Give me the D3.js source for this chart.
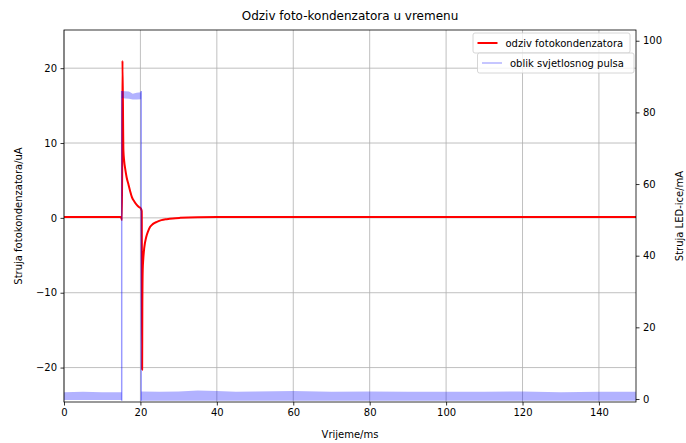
<!DOCTYPE html>
<html><head><meta charset="utf-8">
<script src="https://cdn.jsdelivr.net/npm/d3@7"></script>
<style>
body{margin:0;background:#fff;}
svg{display:block;font-family:"DejaVu Sans",sans-serif;}
</style></head>
<body><svg id="chart" width="686" height="443"></svg>
<script>
// ---- data ----
const chartTitle = "Odziv foto-kondenzatora u vremenu";
const xLabel = "Vrijeme/ms";
const yLeftLabel = "Struja fotokondenzatora/uA";
const yRightLabel = "Struja LED-ice/mA";
const seriesNames = ["odziv fotokondenzatora", "oblik svjetlosnog pulsa"];

const xTicks = [0, 20, 40, 60, 80, 100, 120, 140];
const yLeftTicks = [-20, -10, 0, 10, 20];
const yRightTicks = [0, 20, 40, 60, 80, 100];

// capacitor response (uA)
const respTime = [0, 5, 10, 14.9, 15.2, 15.3, 15.55, 15.75, 16.0, 16.4, 16.9, 17.3, 17.75, 18.4, 19.1, 19.6, 20.1, 20.35, 20.45, 20.5, 20.6, 20.75, 21.0, 21.5, 22.0, 22.55, 23.3, 24.3, 25.5, 26.9, 28.5, 30.4, 35, 40, 60, 80, 100, 120, 149.7];
const respValue = [0.1, 0.12, 0.1, 0.1, -0.3, 21.0, 9.0, 7.6, 6.6, 5.4, 4.4, 3.6, 2.8, 2.2, 1.7, 1.45, 1.25, 0.9, -20.3, -12.0, -7.0, -5.5, -4.0, -2.6, -1.8, -1.2, -0.8, -0.53, -0.3, -0.17, -0.07, 0.0, 0.08, 0.1, 0.12, 0.12, 0.12, 0.12, 0.12];

// light pulse (mA) – noise band envelope
const ledTime = [0, 5, 10, 15.1, 15.1, 16, 17, 18, 19, 20.2, 20.2, 25, 30, 35, 40, 45, 50, 60, 70, 80, 90, 100, 110, 120, 130, 140, 149.7];
const ledLow  = [-0.3, -0.3, -0.3, -0.3, 84.0, 83.9, 83.8, 83.6, 83.6, 83.7, -0.5, -0.5, -0.5, -0.5, -0.5, -0.5, -0.5, -0.5, -0.5, -0.5, -0.5, -0.5, -0.5, -0.5, -0.5, -0.5, -0.5];
const ledHigh = [1.9, 2.0, 1.9, 1.9, 86.0, 85.9, 85.8, 85.2, 85.5, 85.6, 2.1, 2.0, 2.1, 2.4, 2.2, 2.0, 2.1, 2.2, 2.0, 2.1, 2.0, 2.0, 2.0, 2.1, 1.9, 2.0, 2.0];
const pulseEdges = [15.1, 20.2];
const pulseLevel = [-0.5, 86.0];

// ---- layout ----
const svg = d3.select("#chart");
const L = 64, R = 636, T = 30, B = 402;
const x = d3.scaleLinear().domain([0, 149.7]).range([L, R]);
const yL = d3.scaleLinear().domain([-24.6, 25.1]).range([B, T]);
const yR = d3.scaleLinear().domain([-0.84, 103.0]).range([B, T]);

svg.append("rect").attr("width", 686).attr("height", 443).attr("fill", "#fff");

// grid
const grid = svg.append("g").attr("stroke", "#b0b0b0").attr("stroke-width", 0.8);
xTicks.forEach(t => grid.append("line").attr("x1", x(t)).attr("x2", x(t)).attr("y1", T).attr("y2", B));
yLeftTicks.forEach(t => grid.append("line").attr("x1", L).attr("x2", R).attr("y1", yL(t)).attr("y2", yL(t)));

svg.append("clipPath").attr("id", "clip").append("rect")
  .attr("x", L).attr("y", T).attr("width", R - L).attr("height", B - T);
const plot = svg.append("g").attr("clip-path", "url(#clip)");

// red response
const respData = respTime.map((t, i) => [t, respValue[i]]);
plot.append("path").datum(respData)
  .attr("d", d3.line().x(d => x(d[0])).y(d => yL(d[1])).curve(d3.curveMonotoneX))
  .attr("fill", "none").attr("stroke", "#ff0000").attr("stroke-width", 2).attr("stroke-linejoin", "round");

// blue band
const ledData = ledTime.map((t, i) => [t, ledLow[i], ledHigh[i]]);
plot.append("path").datum(ledData)
  .attr("d", d3.area().x(d => x(d[0])).y0(d => yR(d[1])).y1(d => yR(d[2])))
  .attr("fill", "rgba(0,0,255,0.3)");
pulseEdges.forEach(t => {
  plot.append("path").datum(pulseLevel.map(v => [t, v]))
    .attr("d", d3.line().x(d => x(d[0])).y(d => yR(d[1])))
    .attr("stroke", "rgba(0,0,255,0.4)").attr("stroke-width", 1.5).attr("fill", "none");
});

// axes
const fs = 10;
const axB = svg.append("g").attr("transform", `translate(0,${B})`)
  .call(d3.axisBottom(x).tickValues(xTicks).tickSize(3.5).tickPadding(3.5).tickFormat(d3.format("d")));
const axL = svg.append("g").attr("transform", `translate(${L},0)`)
  .call(d3.axisLeft(yL).tickValues(yLeftTicks).tickSize(3.5).tickPadding(3.5).tickFormat(d => d < 0 ? "\u2212" + Math.abs(d) : d));
const axR = svg.append("g").attr("transform", `translate(${R},0)`)
  .call(d3.axisRight(yR).tickValues(yRightTicks).tickSize(3.5).tickPadding(3.5).tickFormat(d3.format("d")));
[axB, axL, axR].forEach(a => {
  a.select(".domain").remove();
  a.selectAll(".tick line").attr("stroke", "#000").attr("stroke-width", 0.8);
  a.selectAll(".tick text").attr("font-size", fs).attr("fill", "#000").attr("font-family", "DejaVu Sans");
});

// frame
svg.append("rect").attr("x", L).attr("y", T).attr("width", R - L).attr("height", B - T)
  .attr("fill", "none").attr("stroke", "#000").attr("stroke-width", 0.8);

// labels
svg.append("text").attr("x", (L + R) / 2).attr("y", 19.5).attr("text-anchor", "middle")
  .attr("font-size", 12).text(chartTitle);
svg.append("text").attr("x", (L + R) / 2).attr("y", 438).attr("text-anchor", "middle")
  .attr("font-size", fs).text(xLabel);
svg.append("text").attr("transform", `translate(21.5,${(T + B) / 2}) rotate(-90)`)
  .attr("text-anchor", "middle").attr("font-size", fs).text(yLeftLabel);
svg.append("text").attr("transform", `translate(683,${(T + B) / 2}) rotate(-90)`)
  .attr("text-anchor", "middle").attr("font-size", fs).text(yRightLabel);

// legends
function legend(x0, y0, w, color, label) {
  const g = svg.append("g");
  g.append("rect").attr("x", x0).attr("y", y0).attr("width", w).attr("height", 20).attr("rx", 2)
    .attr("fill", "rgba(255,255,255,0.8)").attr("stroke", "#cccccc").attr("stroke-width", 0.8);
  g.append("line").attr("x1", x0 + 4.5).attr("x2", x0 + 24.5).attr("y1", y0 + 10).attr("y2", y0 + 10)
    .attr("stroke", color).attr("stroke-width", color === "#ff0000" ? 2 : 1.5);
  g.append("text").attr("x", x0 + 32.5).attr("y", y0 + 13.5).attr("font-size", fs).text(label);
}
legend(473, 33, 157, "#ff0000", seriesNames[0]);
legend(477.5, 53, 156.5, "rgba(0,0,255,0.3)", seriesNames[1]);
</script></body></html>
